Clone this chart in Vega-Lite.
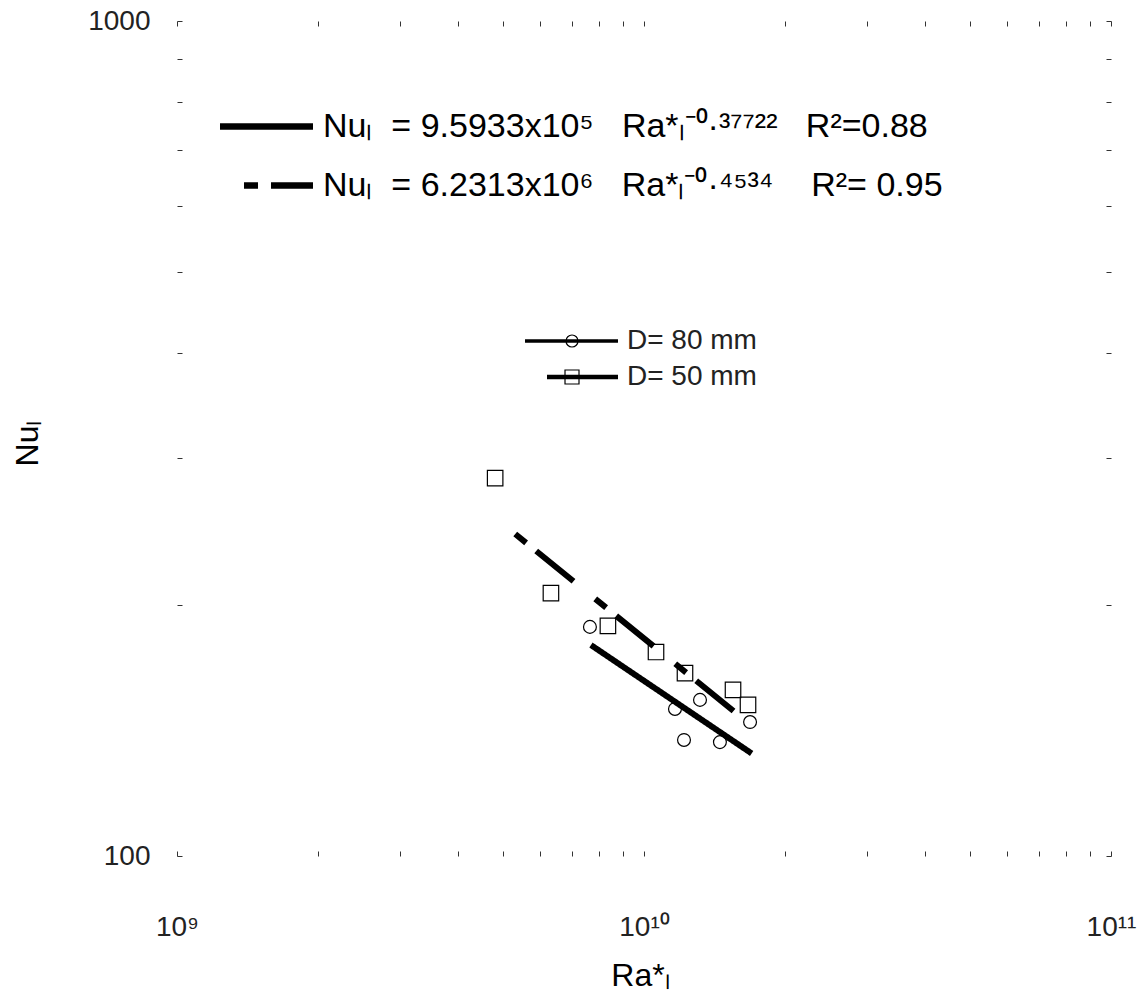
{
  "$schema": "https://vega.github.io/schema/vega-lite/v6.json",
  "width": 934,
  "height": 835,
  "autosize": {"type": "none"},
  "padding": {"left": 177, "top": 21, "right": 37, "bottom": 152},
  "background": "white",
  "config": {
    "view": {"stroke": null},
    "font": "Liberation Sans",
    "axis": {
      "domain": false,
      "grid": false,
      "tickColor": "#333",
      "tickWidth": 1,
      "tickSize": -5,
      "labelOverlap": false,
      "labelFlush": false,
      "labelFont": "Liberation Sans",
      "labelFontSize": 28,
      "labelColor": "#222",
      "titleFont": "Liberation Sans",
      "titleFontSize": 32,
      "titleFontWeight": "normal",
      "titleColor": "black"
    },
    "legend": {"padding": 0, "rowPadding": 0, "labelLimit": 1000, "titleLimit": 0}
  },
  "datasets": {
    "fits": [
      {"fit": "Nuₗ\u00a0\u00a0= 9.5933x10⁵\u00a0\u00a0\u00a0Ra*ₗ⁻⁰·³⁷⁷²²\u00a0\u00a0\u00a0R²=0.88", "Ra": 7.7e9, "Nu": 178.9},
      {"fit": "Nuₗ\u00a0\u00a0= 9.5933x10⁵\u00a0\u00a0\u00a0Ra*ₗ⁻⁰·³⁷⁷²²\u00a0\u00a0\u00a0R²=0.88", "Ra": 1.7e10, "Nu": 132.7},
      {"fit": "Nuₗ\u00a0\u00a0= 6.2313x10⁶\u00a0\u00a0\u00a0Ra*ₗ⁻⁰·⁴⁵³⁴\u00a0\u00a0\u00a0\u00a0R²= 0.95", "Ra": 5.3e9, "Nu": 243.0},
      {"fit": "Nuₗ\u00a0\u00a0= 6.2313x10⁶\u00a0\u00a0\u00a0Ra*ₗ⁻⁰·⁴⁵³⁴\u00a0\u00a0\u00a0\u00a0R²= 0.95", "Ra": 1.65e10, "Nu": 145.2}
    ],
    "points": [
      {"D": "D= 80 mm", "Ra": 7.66e9, "Nu": 188.1},
      {"D": "D= 80 mm", "Ra": 1.165e10, "Nu": 150.0},
      {"D": "D= 80 mm", "Ra": 1.318e10, "Nu": 153.8},
      {"D": "D= 80 mm", "Ra": 1.218e10, "Nu": 137.7},
      {"D": "D= 80 mm", "Ra": 1.454e10, "Nu": 136.9},
      {"D": "D= 80 mm", "Ra": 1.687e10, "Nu": 144.7},
      {"D": "D= 50 mm", "Ra": 4.8e9, "Nu": 283.5},
      {"D": "D= 50 mm", "Ra": 6.32e9, "Nu": 206.5},
      {"D": "D= 50 mm", "Ra": 8.37e9, "Nu": 188.6},
      {"D": "D= 50 mm", "Ra": 1.061e10, "Nu": 175.5},
      {"D": "D= 50 mm", "Ra": 1.224e10, "Nu": 165.6},
      {"D": "D= 50 mm", "Ra": 1.551e10, "Nu": 158.1},
      {"D": "D= 50 mm", "Ra": 1.67e10, "Nu": 151.7}
    ]
  },
  "layer": [
    {
      "data": {"name": "fits"},
      "mark": {"type": "line", "color": "black", "strokeWidth": 6, "strokeCap": "butt"},
      "encoding": {
        "x": {
          "field": "Ra",
          "type": "quantitative",
          "scale": {"type": "log", "domain": [1e9, 1e11], "nice": false},
          "axis": {
            "orient": "bottom",
            "values": [1e9, 2e9, 3e9, 4e9, 5e9, 6e9, 7e9, 8e9, 9e9, 1e10, 2e10, 3e10, 4e10, 5e10, 6e10, 7e10, 8e10, 9e10, 1e11],
            "labelExpr": "datum.value == 1e9 ? '10⁹' : datum.value == 1e10 ? '10¹⁰' : datum.value == 1e11 ? '10¹¹' : ''",
            "labelPadding": 62,
            "title": "Ra*ₗ",
            "titleX": 463,
            "titleY": 119,
            "titleAlign": "center",
            "titleBaseline": "middle"
          }
        },
        "y": {
          "field": "Nu",
          "type": "quantitative",
          "scale": {"type": "log", "domain": [100, 1000], "nice": false},
          "axis": {
            "orient": "left",
            "values": [100, 200, 300, 400, 500, 600, 700, 800, 900, 1000],
            "labelExpr": "datum.value == 100 ? '100' : datum.value == 1000 ? '1000' : ''",
            "labelPadding": 32,
            "title": "Nuₗ",
            "titleAngle": 270,
            "titleX": -150,
            "titleY": 422,
            "titleAlign": "center",
            "titleBaseline": "middle"
          }
        },
        "strokeDash": {
          "field": "fit",
          "type": "nominal",
          "scale": {
            "domain": [
              "Nuₗ\u00a0\u00a0= 9.5933x10⁵\u00a0\u00a0\u00a0Ra*ₗ⁻⁰·³⁷⁷²²\u00a0\u00a0\u00a0R²=0.88",
              "Nuₗ\u00a0\u00a0= 6.2313x10⁶\u00a0\u00a0\u00a0Ra*ₗ⁻⁰·⁴⁵³⁴\u00a0\u00a0\u00a0\u00a0R²= 0.95"
            ],
            "range": [[1, 0], [14, 13, 48, 28]]
          },
          "legend": {
            "title": null,
            "orient": "none",
            "legendX": 77,
            "legendY": 76,
            "rowPadding": 12,
            "symbolSize": 2735,
            "symbolStrokeWidth": 6.7,
            "symbolStrokeColor": "black",
            "symbolFillColor": "transparent",
            "symbolDashOffset": 79,
            "symbolType": "M-2.428,0H1.128",
            "labelFont": "Liberation Sans",
            "labelFontSize": 34,
            "labelColor": "black",
            "labelOffset": 10
          }
        }
      }
    },
    {
      "data": {"name": "points"},
      "transform": [{"filter": "datum.D == 'D= 80 mm'"}],
      "mark": {"type": "point", "shape": "circle", "filled": false, "color": "black", "strokeWidth": 1.2, "size": 165},
      "encoding": {
        "x": {
          "field": "Ra",
          "type": "quantitative",
          "axis": {
            "orient": "top",
            "values": [1e9, 2e9, 3e9, 4e9, 5e9, 6e9, 7e9, 8e9, 9e9, 1e10, 2e10, 3e10, 4e10, 5e10, 6e10, 7e10, 8e10, 9e10, 1e11],
            "labels": false,
            "title": null
          }
        },
        "y": {
          "field": "Nu",
          "type": "quantitative",
          "axis": {
            "orient": "right",
            "values": [100, 200, 300, 400, 500, 600, 700, 800, 900, 1000],
            "labels": false,
            "title": null
          }
        },
        "opacity": {
          "field": "D",
          "type": "ordinal",
          "scale": {"domain": ["D= 80 mm"], "range": [1]},
          "legend": {
            "title": null,
            "orient": "none",
            "legendX": 405,
            "legendY": 302,
            "symbolSize": 1211,
            "symbolStrokeWidth": 1.2,
            "symbolStrokeColor": "black",
            "symbolFillColor": "transparent",
            "symbolType": "M-4.31,-0.066H1.034M-4.31,0H1.034M-4.31,0.066H1.034M-1.264,0A0.345,0.345 0 1,1 -1.954,0A0.345,0.345 0 1,1 -1.264,0Z",
            "labelFont": "Liberation Sans",
            "labelFontSize": 28,
            "labelColor": "#222",
            "labelOffset": 9
          }
        }
      }
    },
    {
      "data": {"name": "points"},
      "transform": [{"filter": "datum.D == 'D= 50 mm'"}],
      "mark": {"type": "point", "shape": "square", "filled": false, "color": "black", "strokeWidth": 1.2, "size": 240},
      "encoding": {
        "x": {"field": "Ra", "type": "quantitative", "axis": null},
        "y": {"field": "Nu", "type": "quantitative", "axis": null},
        "opacity": {
          "field": "D",
          "type": "ordinal",
          "scale": {"domain": ["D= 50 mm"], "range": [1]},
          "legend": {
            "title": null,
            "orient": "none",
            "legendX": 405,
            "legendY": 338,
            "symbolSize": 1211,
            "symbolStrokeWidth": 1.2,
            "symbolStrokeColor": "black",
            "symbolFillColor": "transparent",
            "symbolType": "M-3.046,-0.095H1.034M-3.046,-0.032H1.034M-3.046,0.032H1.034M-3.046,0.095H1.034M-2.011,-0.402H-1.207V0.402H-2.011Z",
            "labelFont": "Liberation Sans",
            "labelFontSize": 28,
            "labelColor": "#222",
            "labelOffset": 9
          }
        }
      }
    }
  ],
  "resolve": {
    "scale": {"opacity": "independent"},
    "axis": {"x": "independent", "y": "independent"}
  }
}
